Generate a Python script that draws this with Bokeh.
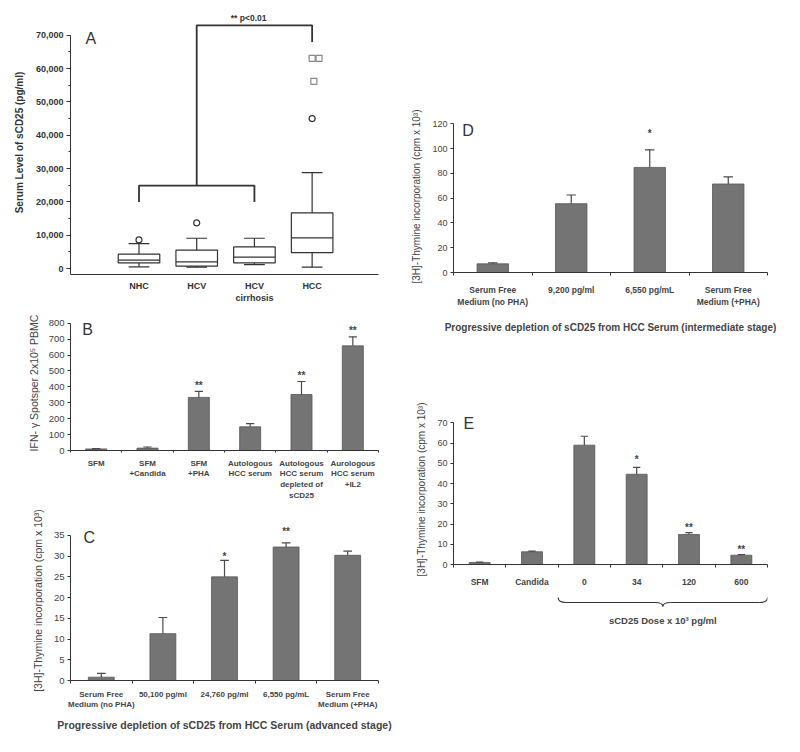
from bokeh.plotting import figure
from bokeh.models import Range1d, FixedTicker, SingleIntervalTicker, NumeralTickFormatter
from bokeh.layouts import row, column
from bokeh.embed import file_html
from bokeh.resources import INLINE
from bokeh.core.properties import value

FONT = "Liberation Sans"
INK = "#333333"
TXT = "#444444"
BAR = "#747474"
BAR_EDGE = "#555555"
ERR = "#4a4a4a"

# ---------------- Panel A data (box plot) ----------------
a_groups = ["NHC", "HCV", "HCV\ncirrhosis", "HCC"]
a_low = [500, 400, 1200, 400]
a_q1 = [1700, 700, 1700, 4800]
a_med = [2500, 2000, 3400, 9200]
a_q3 = [4300, 5500, 6500, 16700]
a_high = [7500, 9100, 9100, 28800]
a_circ_group = [1, 2, 4]
a_circ_val = [8600, 13700, 45000]
a_sq_group = [4, 4, 4]
a_sq_dx = [0.0, 0.12, 0.03]
a_sq_val = [63100, 63100, 56200]
a_br_low = [20000, 24900]      # lower bracket: leg bottom, bar level
a_br_high = [68000, 73000]     # upper bracket: leg bottom, bar level
a_sig = "** p<0.01"

# ---------------- Panel B data ----------------
b_cats = ["SFM", "SFM\n+Candida", "SFM\n+PHA", "Autologous\nHCC serum",
          "Autologous\nHCC serum\ndepleted of\nsCD25", "Aurologous\nHCC serum\n+IL2"]
b_vals = [10, 15, 334, 149, 352, 658]
b_err = [2, 7, 38, 20, 82, 57]
b_star = ["", "", "**", "", "**", "**"]
b_star_y = [0, 0, 440, 0, 500, 786]

# ---------------- Panel C data ----------------
c_cats = ["Serum Free\nMedium (no PHA)", "50,100 pg/ml", "24,760 pg/ml",
          "6,550 pg/mL", "Serum Free\nMedium (+PHA)"]
c_vals = [0.8, 11.3, 25.0, 32.2, 30.2]
c_err = [0.9, 3.9, 4.0, 1.0, 1.0]
c_star = ["", "", "*", "**", ""]
c_star_y = [0, 0, 31.2, 37.2, 0]

# ---------------- Panel D data ----------------
d_cats = ["Serum Free\nMedium (no PHA)", "9,200 pg/ml", "6,550 pg/mL",
          "Serum Free\nMedium (+PHA)"]
d_vals = [7.0, 55.6, 84.9, 71.5]
d_err = [0.8, 7.0, 14.2, 5.7]
d_star = ["", "", "*", ""]
d_star_y = [0, 0, 116, 0]

# ---------------- Panel E data ----------------
e_cats = ["SFM", "Candida", "0", "34", "120", "600"]
e_vals = [1.0, 6.3, 59.0, 44.6, 14.8, 4.6]
e_err = [0.2, 0.3, 4.4, 3.4, 1.0, 0.3]
e_star = ["", "", "", "*", "**", "**"]
e_star_y = [0, 0, 0, 54.5, 21.0, 9.9]
e_dose_label = "sCD25 Dose x 10\u00b3 pg/ml"


def make_fig(w, h, xr, yr, bl, br, bt, bb):
    p = figure(width=w, height=h, x_range=xr, y_range=yr,
               toolbar_location=None, output_backend="svg",
               min_border_left=bl, min_border_right=br,
               min_border_top=bt, min_border_bottom=bb)
    p.outline_line_color = None
    p.xgrid.visible = False
    p.ygrid.visible = False
    p.background_fill_color = "white"
    p.border_fill_color = "white"
    for ax in p.axis:
        ax.axis_line_color = INK
        ax.axis_line_width = 1
        ax.major_tick_line_color = INK
        ax.minor_tick_line_color = INK
        ax.major_label_text_font = FONT
        ax.axis_label_text_font = FONT
        ax.major_label_text_color = TXT
        ax.axis_label_text_color = TXT
        ax.axis_label_text_font_style = "normal"
    return p


def y_axis(p, interval, top, label, lab_size, tick_size, standoff=8):
    ax = p.yaxis[0]
    ax.ticker = SingleIntervalTicker(interval=interval, num_minor_ticks=0)
    ax.bounds = (p.y_range.start, top)
    ax.major_tick_in = 0
    ax.major_tick_out = 3
    ax.minor_tick_in = 0
    ax.minor_tick_out = 0
    ax.minor_tick_line_color = None
    ax.major_label_standoff = 3
    ax.major_label_text_font_size = tick_size
    ax.major_label_text_font_style = "normal"
    ax.axis_label = label
    ax.axis_label_text_font_size = lab_size
    ax.axis_label_text_font_style = "normal"
    ax.axis_label_standoff = standoff


def band_x_axis(p, cats, size, standoff, title=None, title_size="10.5px", title_standoff=8):
    n = len(cats)
    ax = p.xaxis[0]
    ax.ticker = FixedTicker(ticks=list(range(n)),
                            minor_ticks=[i - 0.5 for i in range(n + 1)])
    ax.major_label_overrides = {i: c for i, c in enumerate(cats)}
    ax.major_tick_line_color = None
    ax.major_tick_in = 0
    ax.major_tick_out = 0
    ax.minor_tick_in = 0
    ax.minor_tick_out = 3
    ax.major_label_standoff = standoff
    ax.major_label_text_font_size = size
    ax.major_label_text_font_style = "bold"
    if title:
        ax.axis_label = title
        ax.axis_label_text_font_size = title_size
        ax.axis_label_text_font_style = "bold"
        ax.axis_label_standoff = title_standoff


def bars(p, vals, errs, stars, star_y, width, cap):
    xs = list(range(len(vals)))
    p.vbar(x=xs, top=vals, bottom=0, width=width, fill_color=BAR,
           line_color=BAR_EDGE, line_width=0.8)
    tops = [v + e for v, e in zip(vals, errs)]
    p.segment(x0=xs, y0=vals, x1=xs, y1=tops, line_color=ERR, line_width=1.2)
    p.segment(x0=[x - cap for x in xs], y0=tops, x1=[x + cap for x in xs], y1=tops,
              line_color=ERR, line_width=1.2)
    sx = [x for x, s in zip(xs, stars) if s]
    sy = [y for y, s in zip(star_y, stars) if s]
    st = [s for s in stars if s]
    p.text(x=sx, y=sy, text=st, text_align="center", text_baseline="alphabetic",
           y_offset=5, text_font=value(FONT), text_font_size="10px",
           text_font_style="bold", text_color=TXT)


def letter(p, x, y, t):
    p.text(x=[x], y=[y], text=[t], text_align="left", text_baseline="alphabetic",
           text_font=value(FONT), text_font_size="16px", text_color=INK)


# ================= Panel A =================
pa = make_fig(408, 305, Range1d(-0.187, 5.15), Range1d(-1787, 77447), 70, 30, 10, 29)
ax = pa.yaxis[0]
ax.ticker = SingleIntervalTicker(interval=10000, num_minor_ticks=2)
ax.formatter = NumeralTickFormatter(format="0,0")
ax.bounds = (-1787, 70000)
ax.major_tick_in = 0
ax.major_tick_out = 4
ax.minor_tick_in = 0
ax.minor_tick_out = 2
ax.major_label_standoff = 3
ax.major_label_text_font_size = "9px"
ax.major_label_text_font_style = "bold"
ax.major_label_text_color = INK
ax.axis_label = "Serum Level of sCD25 (pg/ml)"
ax.axis_label_text_font_size = "10px"
ax.axis_label_text_font_style = "bold"
ax.axis_label_text_color = INK
ax.axis_label_standoff = 8
xa = pa.xaxis[0]
xa.ticker = FixedTicker(ticks=[1, 2, 3, 4])
xa.major_label_overrides = {i + 1: g for i, g in enumerate(a_groups)}
xa.major_tick_line_color = None
xa.minor_tick_line_color = None
xa.major_tick_out = 0
xa.major_label_standoff = 6
xa.major_label_text_font_size = "9px"
xa.major_label_text_font_style = "bold"
xa.major_label_text_color = INK

ax_pos = [1, 2, 3, 4]
hw = 0.36
cw = 0.18
pa.quad(left=[x - hw for x in ax_pos], right=[x + hw for x in ax_pos],
        bottom=a_q1, top=a_q3, fill_color="white", line_color=INK, line_width=1.2)
pa.segment(x0=[x - hw for x in ax_pos], x1=[x + hw for x in ax_pos], y0=a_med, y1=a_med,
           line_color=INK, line_width=1.2)
pa.segment(x0=ax_pos, x1=ax_pos, y0=a_q3, y1=a_high, line_color=INK, line_width=1.2)
pa.segment(x0=ax_pos, x1=ax_pos, y0=a_low, y1=a_q1, line_color=INK, line_width=1.2)
pa.segment(x0=[x - cw for x in ax_pos], x1=[x + cw for x in ax_pos], y0=a_high, y1=a_high,
           line_color=INK, line_width=1.2)
pa.segment(x0=[x - cw for x in ax_pos], x1=[x + cw for x in ax_pos], y0=a_low, y1=a_low,
           line_color=INK, line_width=1.2)
pa.scatter(x=a_circ_group, y=a_circ_val, marker="circle", size=6, fill_color=None,
           line_color=INK, line_width=1.2)
pa.scatter(x=[g + d for g, d in zip(a_sq_group, a_sq_dx)], y=a_sq_val, marker="square",
           size=6, fill_color=None, line_color="#888888", line_width=1.2)
# significance brackets
pa.line(x=[1, 1, 3, 3], y=[a_br_low[0], a_br_low[1], a_br_low[1], a_br_low[0]],
        line_color=INK, line_width=1.8)
pa.line(x=[2, 2, 4, 4], y=[a_br_low[1], a_br_high[1], a_br_high[1], a_br_high[0]],
        line_color=INK, line_width=1.8)
pa.text(x=[2.9], y=[a_br_high[1]], text=[a_sig], text_align="center",
        text_baseline="bottom", y_offset=-2, text_font=value(FONT), text_font_size="8.5px",
        text_font_style="bold", text_color=INK)
letter(pa, 0.073, 69000, "A")

# ================= Panel B =================
pb = make_fig(408, 197, Range1d(-0.5, 5.5), Range1d(0, 849), 70, 30, 10, 48)
y_axis(pb, 100, 800, "IFN- \u03b3 Spotsper 2x10\u2075 PBMC", "10.5px", "9.5px", standoff=6)
band_x_axis(pb, b_cats, "8px", 6)
pb.xaxis[0].minor_tick_out = 2
bars(pb, b_vals, b_err, b_star, b_star_y, 0.41, 0.08)
letter(pb, -0.27, 763, "B")

# ================= Panel C =================
pc = make_fig(408, 249, Range1d(-0.5, 4.5), Range1d(0, 38.6), 70, 23, 18, 71)
y_axis(pc, 5, 35, "[3H]-Thymine incorporation (cpm x 10\u00b3)", "10.5px", "9.5px", standoff=7)
band_x_axis(pc, c_cats, "8px", 6,
            title="Progressive depletion of sCD25 from HCC Serum (advanced stage)",
            title_size="10.5px", title_standoff=7)
bars(pc, c_vals, c_err, c_star, c_star_y, 0.42, 0.07)
letter(pc, -0.29, 34.6, "C")

# ================= Panel D =================
pd_ = make_fig(392, 335, Range1d(-0.5, 3.5), Range1d(0, 122.8), 45, 33, 120, 58)
y_axis(pd_, 20, 120, "[3H]-Thymine incorporation (cpm x 10\u00b3)", "10px", "9px", standoff=7)
band_x_axis(pd_, d_cats, "8.5px", 9,
            title="Progressive depletion of sCD25 from HCC Serum (intermediate stage)",
            title_size="10px", title_standoff=12)
bars(pd_, d_vals, d_err, d_star, d_star_y, 0.40, 0.06)
letter(pd_, -0.39, 115, "D")

# ================= Panel E =================
ex = Range1d(-0.5, 5.5)
pe = make_fig(392, 260, ex, Range1d(0, 74.15), 45, 25, 79, 31)
y_axis(pe, 10, 70, "[3H]-Thymine incorporation (cpm x 10\u00b3)", "10px", "9px", standoff=7)
band_x_axis(pe, e_cats, "8.5px", 9)
bars(pe, e_vals, e_err, e_star, e_star_y, 0.40, 0.07)
letter(pe, -0.31, 69.6, "E")

# brace with dose label under the dose groups of panel E
pbr = figure(width=392, height=40, x_range=ex, y_range=Range1d(0, 40),
             toolbar_location=None, output_backend="svg",
             min_border_left=45, min_border_right=25, min_border_top=0, min_border_bottom=0)
pbr.axis.visible = False
pbr.grid.visible = False
pbr.outline_line_color = None
dose_first = e_cats.index("0") - 0.5
dose_last = len(e_cats) - 0.5
mid = (dose_first + dose_last) / 2
d = 0.15
pbr.quadratic(x0=[dose_first, mid - d, mid + d, dose_last - d],
              y0=[38, 33, 33, 33],
              x1=[dose_first + d, mid, mid, dose_last],
              y1=[33, 29, 29, 38],
              cx=[dose_first, mid, mid, dose_last],
              cy=[33, 33, 33, 33], line_color=INK, line_width=1.1)
pbr.segment(x0=[dose_first + d, mid + d], x1=[mid - d, dose_last - d], y0=[33, 33], y1=[33, 33],
            line_color=INK, line_width=1.1)
pbr.text(x=[mid], y=[15], text=[e_dose_label], text_align="center", text_baseline="middle",
         text_font=value(FONT), text_font_size="9.5px", text_font_style="bold", text_color=TXT)

layout = row(column(pa, pb, pc), column(pd_, pe, pbr))
open("out.html", "w").write(file_html(layout, INLINE))
